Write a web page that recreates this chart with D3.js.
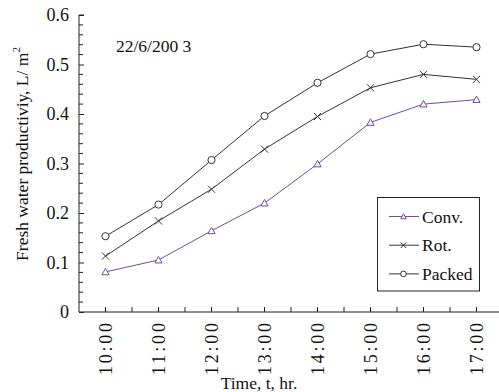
<!DOCTYPE html>
<html>
<head>
<meta charset="utf-8">
<script src="https://cdn.jsdelivr.net/npm/d3@7"></script>
<style>
  html, body { margin: 0; padding: 0; background: #fff; }
  svg { display: block; }
  text { font-family: "Liberation Serif", "Times New Roman", serif; fill: #111; }
</style>
</head>
<body>
<svg id="chart" width="499" height="392"></svg>
<script>
// Hourly readings, 22/6/2003
const hours = ["10:00", "11:00", "12:00", "13:00", "14:00", "15:00", "16:00", "17:00"];
const conv   = [0.081, 0.105, 0.164, 0.220, 0.299, 0.383, 0.420, 0.429];
const rot    = [0.113, 0.184, 0.248, 0.329, 0.395, 0.453, 0.480, 0.470];
const packed = [0.153, 0.217, 0.307, 0.396, 0.463, 0.521, 0.541, 0.535];
const yTicks = [0, 0.1, 0.2, 0.3, 0.4, 0.5, 0.6];
const seriesNames = ["Conv.", "Rot.", "Packed"];

const svg = d3.select("#chart");
const plotLeft = 79, plotBottom = 312, plotTop = 15;

// x: hour index, half a step of padding on either side of the points
const x = d3.scaleLinear().domain([-0.5, 7.5]).range([plotLeft, 503]);
const y = d3.scaleLinear().domain([0, 0.6]).range([plotBottom, plotTop]);

// Y axis with inward ticks
const yAxis = d3.axisLeft(y).tickValues(yTicks).tickSize(-5).tickPadding(10)
  .tickFormat(d => d === 0 ? "0" : d3.format(".1f")(d));
const gy = svg.append("g").attr("transform", `translate(${plotLeft},0)`).call(yAxis);
gy.attr("font-family", null);
gy.select(".domain").attr("stroke", "#222").attr("d", `M0,${plotBottom}V${plotTop}H5`);
gy.selectAll(".tick line").attr("stroke", "#222");
gy.selectAll(".tick text").attr("font-size", 18).attr("fill", "#111");
// minor ticks every 0.02
const minorY = d3.range(1, 30).map(i => i * 0.02).filter(v => Math.abs(v * 10 - Math.round(v * 10)) > 1e-6);
svg.append("g").selectAll("line").data(minorY).join("line")
  .attr("x1", plotLeft).attr("x2", plotLeft + 4)
  .attr("y1", d => y(d)).attr("y2", d => y(d))
  .attr("stroke", "#222");

// X axis: ticks at each hour and half hour, pointing up
const xTickVals = d3.range(0, 16).map(i => i * 0.5);
svg.append("line").attr("x1", plotLeft).attr("x2", 503).attr("y1", plotBottom).attr("y2", plotBottom).attr("stroke", "#222");
svg.append("g").selectAll("line").data(xTickVals).join("line")
  .attr("x1", d => x(d)).attr("x2", d => x(d))
  .attr("y1", plotBottom).attr("y2", plotBottom - 5)
  .attr("stroke", "#222");
svg.append("g").selectAll("text").data(hours).join("text")
  .attr("transform", (d, i) => `translate(${x(i) + 6},323) rotate(-90)`)
  .attr("text-anchor", "end")
  .attr("font-size", 18)
  .attr("textLength", 52)
  .attr("lengthAdjust", "spacing")
  .text(d => d);

// Axis titles
svg.append("text")
  .attr("x", 259).attr("y", 389)
  .attr("text-anchor", "middle").attr("font-size", 17.5)
  .text("Time, t, hr.");
const yl = svg.append("text")
  .attr("transform", "translate(28,154) rotate(-90)")
  .attr("text-anchor", "middle").attr("font-size", 17.5);
yl.append("tspan").text("Fresh water productiviy, L/ m");
yl.append("tspan").attr("font-size", 11).attr("dy", -8).text("2");

svg.append("text").attr("x", 116).attr("y", 51.5).attr("font-size", 17.5).text("22/6/200 3");

// Series
const series = [
  { name: seriesNames[0], values: conv, color: "#6a4ea4", marker: "tri" },
  { name: seriesNames[1], values: rot, color: "#333", marker: "x" },
  { name: seriesNames[2], values: packed, color: "#333", marker: "circle" }
];

function drawMarker(g, type, color, s) {
  if (type === "tri") {
    g.append("path").attr("d", `M0,${-s}L${s},${s * 0.8}L${-s},${s * 0.8}Z`)
      .attr("fill", "#fff").attr("stroke", color).attr("stroke-width", 1);
  } else if (type === "x") {
    g.append("path").attr("d", `M${-s},${-s}L${s},${s}M${-s},${s}L${s},${-s}`)
      .attr("fill", "none").attr("stroke", color).attr("stroke-width", 1);
  } else {
    g.append("circle").attr("r", s)
      .attr("fill", "#fff").attr("stroke", color).attr("stroke-width", 1);
  }
}

const line = d3.line().x((d, i) => x(i)).y(d => y(d));
series.forEach(s => {
  svg.append("path").datum(s.values).attr("d", line)
    .attr("fill", "none").attr("stroke", s.color).attr("stroke-width", 1);
  s.values.forEach((v, i) => {
    const g = svg.append("g").attr("transform", `translate(${x(i)},${y(v)})`);
    drawMarker(g, s.marker, s.color, 3.6);
  });
});

// Legend
const lg = svg.append("g");
lg.append("rect").attr("x", 377.5).attr("y", 197.5).attr("width", 102).attr("height", 93.5)
  .attr("fill", "#fff").attr("stroke", "#222");
series.forEach((s, i) => {
  const cy = 216.5 + i * 28.7;
  lg.append("line").attr("x1", 389).attr("x2", 419).attr("y1", cy).attr("y2", cy)
    .attr("stroke", s.color).attr("stroke-width", 1);
  const g = lg.append("g").attr("transform", `translate(403.5,${cy})`);
  drawMarker(g, s.marker, s.color, 2.8);
  lg.append("text").attr("x", 422).attr("y", cy + 6).attr("font-size", 17.5).text(s.name);
});
</script>
</body>
</html>
